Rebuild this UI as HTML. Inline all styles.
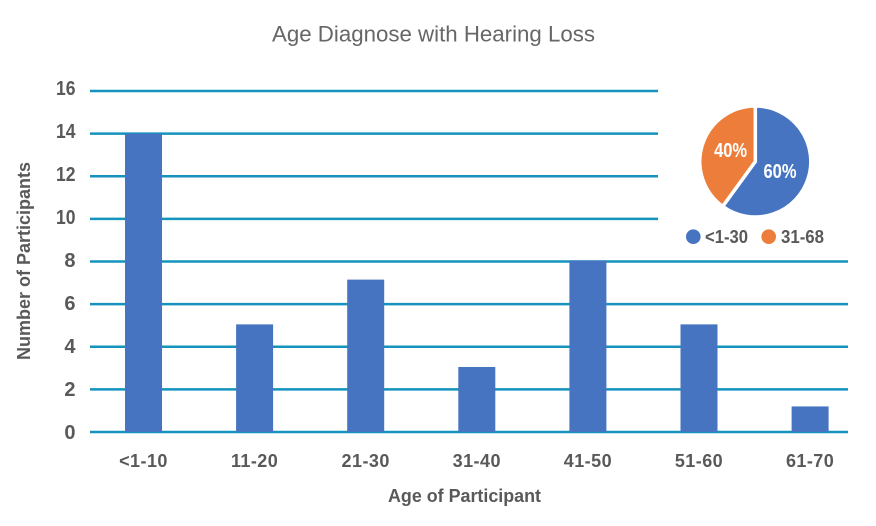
<!DOCTYPE html>
<html lang="en">
<head>
<meta charset="utf-8">
<title>Age Diagnose with Hearing Loss</title>
<style>
html,body{margin:0;padding:0;background:#fff;width:876px;height:526px;overflow:hidden}
svg{display:block;font-family:"Liberation Sans",sans-serif}
</style>
</head>
<body>
<svg id="chart" width="876" height="526" viewBox="0 0 876 526" xmlns="http://www.w3.org/2000/svg">
<text x="433.5" y="41.5" text-anchor="middle" font-size="22" fill="#666666" textLength="323" lengthAdjust="spacingAndGlyphs">Age Diagnose with Hearing Loss</text>
<g id="grid"></g>
<g id="bars"></g>
<g id="yticks"></g>
<g id="xticks"></g>
<text transform="translate(30,261) rotate(-90)" text-anchor="middle" font-size="18" font-weight="bold" fill="#595959" textLength="198" lengthAdjust="spacingAndGlyphs">Number of Participants</text>
<text x="464.5" y="502" text-anchor="middle" font-size="18" font-weight="bold" fill="#595959" textLength="153" lengthAdjust="spacingAndGlyphs">Age of Participant</text>
<g id="pie"></g>
<g>
<circle cx="693.3" cy="236.7" r="7.3" fill="#4674c1"></circle>
<text x="705" y="243" font-size="18" font-weight="bold" fill="#595959" textLength="43" lengthAdjust="spacingAndGlyphs">&lt;1-30</text>
<circle cx="768.7" cy="236.7" r="7.3" fill="#ed7d3a"></circle>
<text x="781" y="243" font-size="18" font-weight="bold" fill="#595959" textLength="43" lengthAdjust="spacingAndGlyphs">31-68</text>
</g>
</svg>
<script>
const categories = ['<1-10', '11-20', '21-30', '31-40', '41-50', '51-60', '61-70'];
const participants = [14, 5.05, 7.15, 3.05, 8.05, 5.05, 1.2];
const yTicks = [0, 2, 4, 6, 8, 10, 12, 14, 16];
const pieLabels = ['60%', '40%'];
const pieValues = [60, 40];
const pieColors = ['#4674c1', '#ed7d3a'];

const NS = 'http://www.w3.org/2000/svg';
const y = v => 432 - v * (341 / 16);
const yLabelBaseline = v => 439 - v * (344 / 16);
const x = i => 143.5 + i * 111.1;
function mk(tag, attrs, parent, text) {
  const el = document.createElementNS(NS, tag);
  for (const k in attrs) el.setAttribute(k, attrs[k]);
  if (text !== undefined) el.textContent = text;
  parent.appendChild(el);
  return el;
}
const grid = document.getElementById('grid');
const yt = document.getElementById('yticks');
yTicks.forEach(t => {
  const line = mk('line', {x1: 90, x2: t > 8 ? 658 : 848, y1: y(t), y2: y(t), stroke: '#1592be', 'stroke-width': 2.4}, grid);
  
  
  const label = mk('text', {x: 75.5, y: yLabelBaseline(t), 'text-anchor': 'end', 'font-size': 20, 'font-weight': 'bold', fill: '#595959'}, yt, t);
  if (String(t).length > 1) label.setAttribute('textLength', 19.5);
  if (String(t).length > 1) label.setAttribute('lengthAdjust', 'spacingAndGlyphs');
  
  
});
const bars = document.getElementById('bars');
const xt = document.getElementById('xticks');
categories.forEach((c, i) => {
  const v = participants[i];
  const bar = mk('rect', {x: x(i) - 18.5, y: y(v), width: 37, height: y(0) - y(v), fill: '#4674c1'}, bars);
  
  
  const label = mk('text', {x: x(i), y: 467, 'text-anchor': 'middle', 'font-size': 18, 'font-weight': 'bold', fill: '#595959', 'letter-spacing': 0.45}, xt, c);
  
  
});
const pie = document.getElementById('pie');
const cx = 755.3, cy = 161.5, r = 55.5;
const labelRadius = 26;
const labelNudge = [1, -4];
const total = pieValues.reduce((a, b) => a + b, 0);
let acc = 0;
pieValues.forEach((v, i) => {
  const a0 = acc / total * 2 * Math.PI;
  acc += v;
  const a1 = acc / total * 2 * Math.PI;
  const large = a1 - a0 > Math.PI ? 1 : 0;
  const d = `M${cx} ${cy}L${cx + r * Math.sin(a0)} ${cy - r * Math.cos(a0)}A${r} ${r} 0 ${large} 1 ${cx + r * Math.sin(a1)} ${cy - r * Math.cos(a1)}Z`;
  const slice = mk('path', {d: d, fill: pieColors[i], stroke: '#fff', 'stroke-width': 3.5}, pie);
  
  
  const mid = (a0 + a1) / 2;
  const label = mk('text', {x: cx + labelRadius * Math.sin(mid), y: cy - labelRadius * Math.cos(mid) + 7.5 + labelNudge[i], 'text-anchor': 'middle', 'font-size': 20, 'font-weight': 'bold', fill: '#fff', textLength: 33, lengthAdjust: 'spacingAndGlyphs'}, pie, pieLabels[i]);
  
  
});
</script>
</body>
</html>
